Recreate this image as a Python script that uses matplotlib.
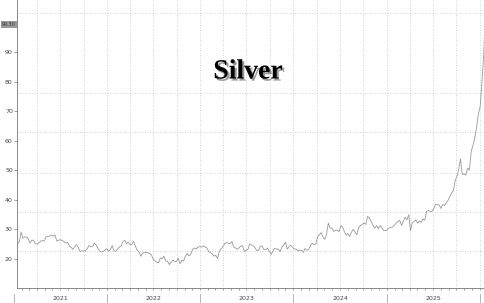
import matplotlib
matplotlib.use('Agg')
import matplotlib.pyplot as plt
import matplotlib.dates as mdates
import matplotlib.patheffects as pe
import numpy as np
import pandas as pd

# weekly closes (Fridays)
silver_2021 = [25.0, 25.6, 29.0,
               26.9, 27.3, 27.3, 26.7,
               25.2, 26.2, 26.2, 25.0,
               24.9, 25.3, 25.9, 26.1, 25.9,
               27.4, 27.4, 27.6, 28.0,
               27.6, 28.0, 25.9, 26.2,
               26.4, 26.1, 25.8, 25.2, 25.5,
               24.3, 23.8, 23.1, 24.0,
               24.7, 23.8, 22.4, 22.6,
               22.5, 22.7, 23.3, 24.4, 24.0,
               24.1, 25.2, 24.7, 23.5,
               22.5, 22.2, 22.4, 22.9, 23.3]
silver_2022 = [22.4, 23.0, 24.4, 22.6,
               22.4, 23.2, 23.9, 24.2,
               25.7, 26.2, 25.0, 25.6,
               24.7, 24.8, 25.8, 24.2, 22.8,
               22.3, 20.8, 21.8, 22.1,
               22.1, 21.9, 21.7, 21.1,
               19.8, 19.2, 18.7, 18.6, 20.2,
               19.9, 20.8, 19.1, 19.1,
               17.9, 18.8, 19.5, 18.9, 19.0,
               20.1, 18.2, 19.4, 19.2,
               20.8, 21.7, 20.9, 21.5,
               23.1, 23.6, 23.2, 23.9, 24.0]
silver_2023 = [23.9, 24.3, 23.9, 23.6,
               22.4, 22.0, 21.6, 20.8,
               21.1, 20.0, 22.5, 23.2, 24.1,
               25.0, 25.4, 25.2, 25.0,
               25.8, 23.9, 23.6, 23.1,
               23.6, 24.3, 24.3, 22.4, 22.8,
               23.1, 25.0, 24.6, 24.3,
               23.6, 22.7, 22.8, 24.2,
               24.2, 23.0, 23.0, 23.5, 22.3,
               21.4, 22.6, 23.4, 23.2,
               23.2, 22.3, 23.8, 24.5,
               25.6, 23.2, 24.0, 24.5, 23.8]
silver_2024 = [23.2, 23.2, 22.6, 22.8,
               22.8, 22.1, 23.4, 22.8,
               23.1, 24.4, 25.2, 24.7, 25.0,
               27.3, 28.1, 28.8, 27.3,
               26.5, 28.2, 32.0, 30.3, 30.4,
               29.2, 29.6, 29.6, 29.1,
               31.1, 30.7, 29.1, 27.9,
               28.5, 27.5, 29.0, 29.9, 28.9,
               28.1, 30.5, 31.2, 31.6,
               32.1, 31.6, 34.3, 33.7,
               32.6, 31.3, 30.3, 31.2, 30.1,
               31.2, 30.4, 29.5, 29.5]
silver_2025 = [29.7, 30.4, 30.5, 30.7, 31.3,
               32.1, 32.6, 32.9, 31.2,
               32.6, 34.0, 33.1, 34.9,
               29.4, 32.2, 32.5, 33.1,
               32.0, 32.7, 32.3, 33.4, 33.0,
               35.9, 36.3, 36.0, 36.0,
               36.9, 38.4, 38.2, 38.2,
               37.0, 38.3, 38.0, 38.9, 39.7,
               41.0, 42.2, 43.0, 46.4,
               47.9, 50.2, 53.8, 48.5, 48.7,
               48.3, 50.7, 50.0, 56.4,
               58.4, 61.0, 64.5, 69.0]
dates_2026 = ['2026-01-02', '2026-01-09', '2026-01-16', '2026-01-20']
silver_2026 = [71.5, 79.8, 89.0, 99.3]

year_starts = {2021: '2021-01-15', 2022: '2022-01-07', 2023: '2023-01-06',
               2024: '2024-01-05', 2025: '2025-01-03'}
year_values = {2021: silver_2021, 2022: silver_2022, 2023: silver_2023,
               2024: silver_2024, 2025: silver_2025}

y_ticks = [20, 30, 40, 50, 60, 70, 80, 90]
years = [2021, 2022, 2023, 2024, 2025]


def build_series():
    parts = []
    for yr in years:
        vals = year_values[yr]
        idx = pd.date_range(year_starts[yr], periods=len(vals), freq='7D')
        parts.append(pd.Series(vals, index=idx))
    parts.append(pd.Series(silver_2026, index=pd.to_datetime(dates_2026)))
    return pd.concat(parts)


def silver_chart():
    s = build_series()

    fig = plt.figure(figsize=(4.85, 3.03), dpi=100)
    ax = fig.add_axes([17 / 485, 15 / 303, 468 / 485, 288 / 303])

    ax.plot(s.index, s.values, color='#999999', lw=0.6)

    ax.set_xlim(pd.Timestamp('2021-01-13'), pd.Timestamp('2026-01-21'))
    ax.set_ylim(10, 107.7)

    # y axis
    ax.set_yticks(y_ticks)
    ax.set_yticklabels([str(v) for v in y_ticks])
    ax.tick_params(axis='y', labelsize=4.5, labelcolor='#444444', length=2,
                   width=0.5, color='#777777', pad=1)
    grid_levels = [22.4, 35.7, 49.0, 62.8, 76.3, 90.0, 103.3]
    ax.set_yticks(grid_levels, minor=True)
    ax.tick_params(axis='y', which='minor', length=0)
    ax.grid(axis='y', which='minor', ls=(0, (1.0, 2.0)), color='#c4c4c4', lw=0.6)

    # x axis: quarterly grid, monthly ticks
    ax.xaxis.set_major_locator(mdates.MonthLocator(bymonth=[1, 4, 7, 10]))
    ax.xaxis.set_minor_locator(mdates.MonthLocator())
    ax.xaxis.set_major_formatter(plt.NullFormatter())
    ax.tick_params(axis='x', which='both', length=1.5, width=0.5, color='#777777')
    ax.grid(axis='x', which='major', ls=(0, (1.0, 2.0)), color='#c4c4c4', lw=0.6)

    trans = ax.get_xaxis_transform()
    for yr in years:
        mid = pd.Timestamp(f'{yr}-07-02')
        ax.text(mid, -0.035, str(yr), transform=trans, ha='center', va='center',
                fontsize=4.5, color='#444444')
    for yr in years + [2026]:
        ax.plot([pd.Timestamp(f'{yr}-01-01')] * 2, [-0.02, -0.05], transform=trans,
                color='#aaaaaa', lw=0.6, clip_on=False)

    for side in ['top', 'right']:
        ax.spines[side].set_visible(False)
    for side in ['left', 'bottom']:
        ax.spines[side].set_color('#777777')
        ax.spines[side].set_linewidth(0.6)

    # last value marker
    last = s.values[-1]
    ax.annotate(f'{last:.2f}', xy=(0, last), xycoords=('axes fraction', 'data'),
                xytext=(-1, 0), textcoords='offset points', ha='right', va='center',
                fontsize=3.5, color='#333333',
                bbox=dict(boxstyle='square,pad=0.2', fc='#9a9a9a', ec='none'),
                annotation_clip=False)

    ax.text(0.4936, 0.75, 'Silver', transform=ax.transAxes, ha='center', va='center',
            fontsize=20, fontweight='bold', family='Liberation Serif', color='black',
            path_effects=[pe.withSimplePatchShadow(offset=(1.5, -1.5),
                                                   shadow_rgbFace='#555555', alpha=0.6)])

    fig.savefig('out.png', dpi=100)


def main():
    silver_chart()


if __name__ == '__main__':
    main()
